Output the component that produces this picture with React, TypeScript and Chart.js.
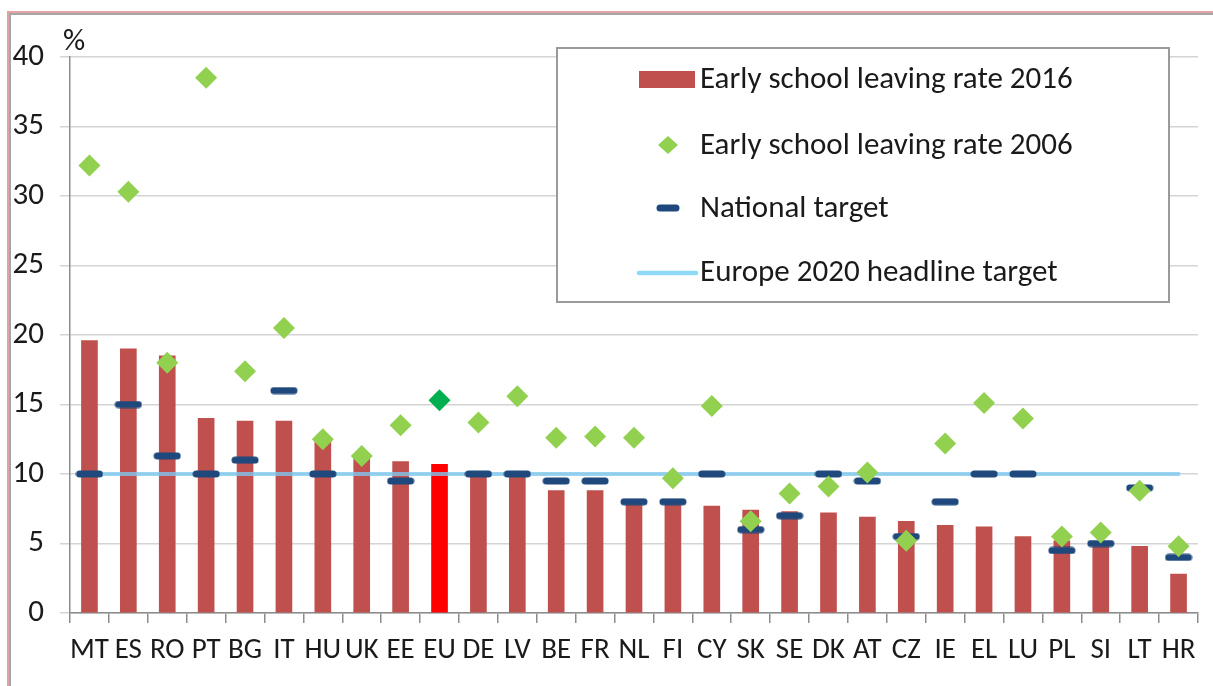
import React, { useEffect, useRef } from "react";
import { Chart, registerables } from "chart.js";

Chart.register(...registerables);

const countries = ["MT","ES","RO","PT","BG","IT","HU","UK","EE","EU","DE","LV","BE","FR","NL","FI","CY","SK","SE","DK","AT","CZ","IE","EL","LU","PL","SI","LT","HR"];
const rate2016 = [19.6,19.0,18.5,14.0,13.8,13.8,12.4,11.2,10.9,10.7,10.2,10.0,8.8,8.8,8.0,7.9,7.7,7.4,7.3,7.2,6.9,6.6,6.3,6.2,5.5,5.2,4.9,4.8,2.8];
const rate2006 = [32.2,30.3,18.0,38.5,17.4,20.5,12.5,11.3,13.5,15.3,13.7,15.6,12.6,12.7,12.6,9.7,14.9,6.6,8.6,9.1,10.1,5.2,12.2,15.1,14.0,5.5,5.8,8.8,4.8];
const nationalTarget = [10,15,11.3,10,11,16,10,null,9.5,null,10,10,9.5,9.5,8,8,10,6,7,10,9.5,5.5,8,10,10,4.5,5,9,4];
const headlineTarget = [10,10,10,10,10,10,10,10,10,10,10,10,10,10,10,10,10,10,10,10,10,10,10,10,10,10,10,10,10];
const yTicks = [0,5,10,15,20,25,30,35,40];

const seriesNames = [
  "Early school leaving rate 2016",
  "Early school leaving rate 2006",
  "National target",
  "Europe 2020 headline target",
];
const unitLabel = "%";

const FONT = "Carlito, Calibri, Lato, sans-serif";
const TEXT = "#1a1a1a";
const BAR = "#C0504D";
const BAR_EU = "#FF0000";
const DIAMOND = "#92D050";
const DIAMOND_EU = "#00B050";
const TARGET = "#1F497D";
const HEADLINE = "rgba(125,200,240,0.78)";

const legendPlugin = {
  id: "customLegend",
  afterDraw(chart: any) {
    const ctx = chart.ctx as CanvasRenderingContext2D;
    const area = chart.chartArea;
    ctx.save();
    // unit label
    ctx.font = `31px ${FONT}`;
    ctx.fillStyle = TEXT;
    ctx.textBaseline = "alphabetic";
    ctx.textAlign = "left";
    ctx.fillText(unitLabel, area.left - 7, area.top - 7);

    // legend box
    const bx = 556, by = 47, bw = 614, bh = 256;
    ctx.fillStyle = "#fff";
    ctx.fillRect(bx, by, bw, bh);
    ctx.strokeStyle = "#9a9a9a";
    ctx.lineWidth = 2;
    ctx.strokeRect(bx + 1, by + 1, bw - 2, bh - 2);

    const baselines = [88, 154, 217, 281];
    const tx = 700;
    // bar symbol
    ctx.fillStyle = BAR;
    ctx.fillRect(639, 71, 56, 17);
    // diamond
    ctx.fillStyle = DIAMOND;
    ctx.beginPath();
    ctx.moveTo(668, 136);
    ctx.lineTo(678, 145);
    ctx.lineTo(668, 154);
    ctx.lineTo(658, 145);
    ctx.closePath();
    ctx.fill();
    // national target dash
    ctx.strokeStyle = TARGET;
    ctx.lineWidth = 7;
    ctx.lineCap = "round";
    ctx.beginPath();
    ctx.moveTo(660, 208);
    ctx.lineTo(676, 208);
    ctx.stroke();
    // headline line
    ctx.strokeStyle = "#8ED8F8";
    ctx.lineWidth = 4.5;
    ctx.beginPath();
    ctx.moveTo(639, 273);
    ctx.lineTo(696, 273);
    ctx.stroke();

    ctx.fillStyle = TEXT;
    ctx.font = `31px ${FONT}`;
    seriesNames.forEach((name, i) => ctx.fillText(name, tx, baselines[i]));
    ctx.restore();
  },
};

export default function App() {
  const ref = useRef<HTMLCanvasElement>(null);

  useEffect(() => {
    const dash = document.createElement("canvas");
    dash.width = 28;
    dash.height = 8;
    const c = dash.getContext("2d")!;
    c.fillStyle = TARGET;
    c.beginPath();
    (c as any).roundRect(0.5, 0.5, 27, 7, 3.5);
    c.fill();

    const chart = new Chart(ref.current!, {
      type: "bar",
      data: {
        labels: countries,
        datasets: [
          {
            type: "line",
            label: seriesNames[1],
            data: rate2006,
            showLine: false,
            pointStyle: "rectRot",
            pointRadius: 11,
            pointBorderWidth: 0,
            pointBackgroundColor: countries.map((c) => (c === "EU" ? DIAMOND_EU : DIAMOND)),
            pointBorderColor: countries.map((c) => (c === "EU" ? DIAMOND_EU : DIAMOND)),
            order: 0,
          } as any,
          {
            type: "line",
            label: seriesNames[2],
            data: nationalTarget,
            showLine: false,
            pointStyle: dash,
            pointRadius: 14,
            order: 1,
          } as any,
          {
            type: "line",
            label: seriesNames[3],
            data: headlineTarget,
            borderColor: HEADLINE,
            borderWidth: 4,
            pointRadius: 0,
            borderCapStyle: "round",
            order: 2,
          } as any,
          {
            type: "bar",
            label: seriesNames[0],
            data: rate2016,
            backgroundColor: countries.map((c) => (c === "EU" ? BAR_EU : BAR)),
            barThickness: 16,
            order: 3,
          } as any,
        ],
      },
      options: {
        animation: false,
        responsive: true,
        maintainAspectRatio: false,
        layout: { padding: { top: 57, right: 2, bottom: 13, left: 0 } },
        plugins: { legend: { display: false }, tooltip: { enabled: false } },
        scales: {
          x: {
            grid: { display: true, drawOnChartArea: false, tickLength: 10, color: "#8c8c8c", offset: true, lineWidth: 1.5 },
            border: { color: "#8c8c8c", width: 1.5 },
            ticks: { font: { family: FONT, size: 29 }, color: TEXT, padding: 10, autoSkip: false, maxRotation: 0, minRotation: 0 },
            afterFit: (s: any) => { s.height = 60; },
          },
          y: {
            min: 0,
            max: 40,
            afterBuildTicks: (s: any) => { s.ticks = yTicks.map((v) => ({ value: v })); },
            ticks: { font: { family: FONT, size: 31 }, color: TEXT, padding: 16 },
            grid: { color: "#d4d4d4", tickLength: 10, lineWidth: 1.5 },
            border: { color: "#8c8c8c", width: 1.5 },
            afterFit: (s: any) => { s.width = 70; },
          },
        },
      },
      plugins: [legendPlugin],
    });
    return () => chart.destroy();
  }, []);

  return (
    <div style={{ position: "absolute", left: 0, top: 0, width: 1213, height: 686, overflow: "hidden", background: "#fff" }}>
      <div
        style={{
          position: "absolute",
          left: 7,
          top: 11,
          width: 1206,
          height: 675,
          boxSizing: "border-box",
          borderTop: "2px solid #e2a3a3",
          borderLeft: "2px solid #e2a3a3",
          boxShadow: "inset 2px 2px 0 #a6a6a6",
        }}
      />
      <div style={{ position: "absolute", left: 0, top: 0, width: 1213, height: 686 }}>
        <canvas ref={ref} />
      </div>
    </div>
  );
}
